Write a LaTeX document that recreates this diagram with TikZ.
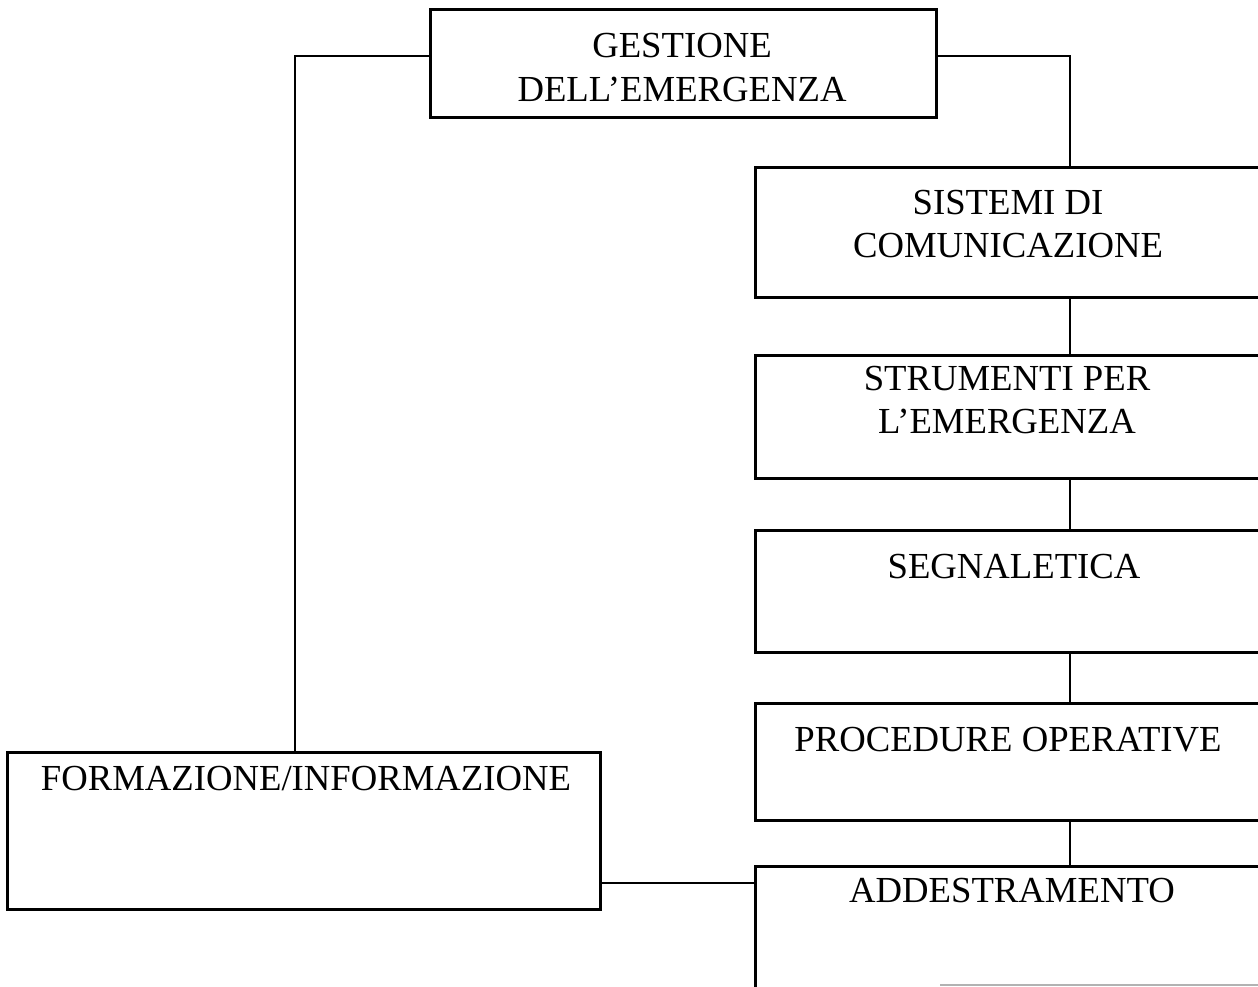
\documentclass[tikz,border=0pt]{standalone}
\usepackage{fontspec}
\setmainfont{Liberation Serif}
\begin{document}
\begin{tikzpicture}[x=1pt,y=-1pt,
  box/.style={draw=black, line width=3pt, rectangle, inner sep=0pt, fill=none},
  lbl/.style={anchor=north, inner sep=0pt, align=center, font=\fontsize{36.7}{43.5}\selectfont},
  conn/.style={draw=black, line width=1.8pt}]
\clip (0,0) rectangle (1258,987);
\fill[white] (0,0) rectangle (1258,987);
% boxes
\node[box, minimum width=506pt, minimum height=108pt] (g) at (683,64) {};
\node[box, minimum width=630pt, minimum height=129pt] (s1) at (1070,232.5) {};
\node[box, minimum width=630pt, minimum height=123pt] (s2) at (1070,416.5) {};
\node[box, minimum width=630pt, minimum height=122pt] (s3) at (1070,591) {};
\node[box, minimum width=630pt, minimum height=117pt] (s4) at (1070,761.5) {};
\node[box, minimum width=630pt, minimum height=150pt] (s5) at (1070,941) {};
\node[box, minimum width=593pt, minimum height=157pt] (f) at (303.5,830.5) {};
% labels
\node[lbl] (tg) at (682,33.5) {GESTIONE\\DELL'EMERGENZA};
\node[lbl] (t1) at (1008,189.5) {SISTEMI DI\\COMUNICAZIONE};
\node[lbl] (t2) at (1007,365.5) {STRUMENTI PER\\L'EMERGENZA};
\node[lbl] (t3) at (1014,553.5) {SEGNALETICA};
\node[lbl] (t4) at (1008,727) {PROCEDURE OPERATIVE};
\node[lbl] (t5) at (1012,877.5) {ADDESTRAMENTO};
\node[lbl] (tf) at (306,765.5) {FORMAZIONE/INFORMAZIONE};
% connectors
\coordinate (gl) at (g.west |- 0,56);
\coordinate (gr) at (g.east |- 0,56);
\coordinate (fn) at ([xshift=-8.5pt]f.north);
\draw[conn] (gl) -| (fn);
\draw[conn] (gr) -| (s1.north);
\draw[conn] (s1.south) -- (s2.north);
\draw[conn] (s2.south) -- (s3.north);
\draw[conn] (s3.south) -- (s4.north);
\draw[conn] (s4.south) -- (s5.north);
\draw[conn] (f.east |- 0,883) -- (s5.west |- 0,883);
% faint bottom line
\coordinate (b1) at (940,985);
\coordinate (b2) at (1258,985);
\draw[gray!60, line width=1.2pt] (b1) -- (b2);
\end{tikzpicture}
\end{document}
